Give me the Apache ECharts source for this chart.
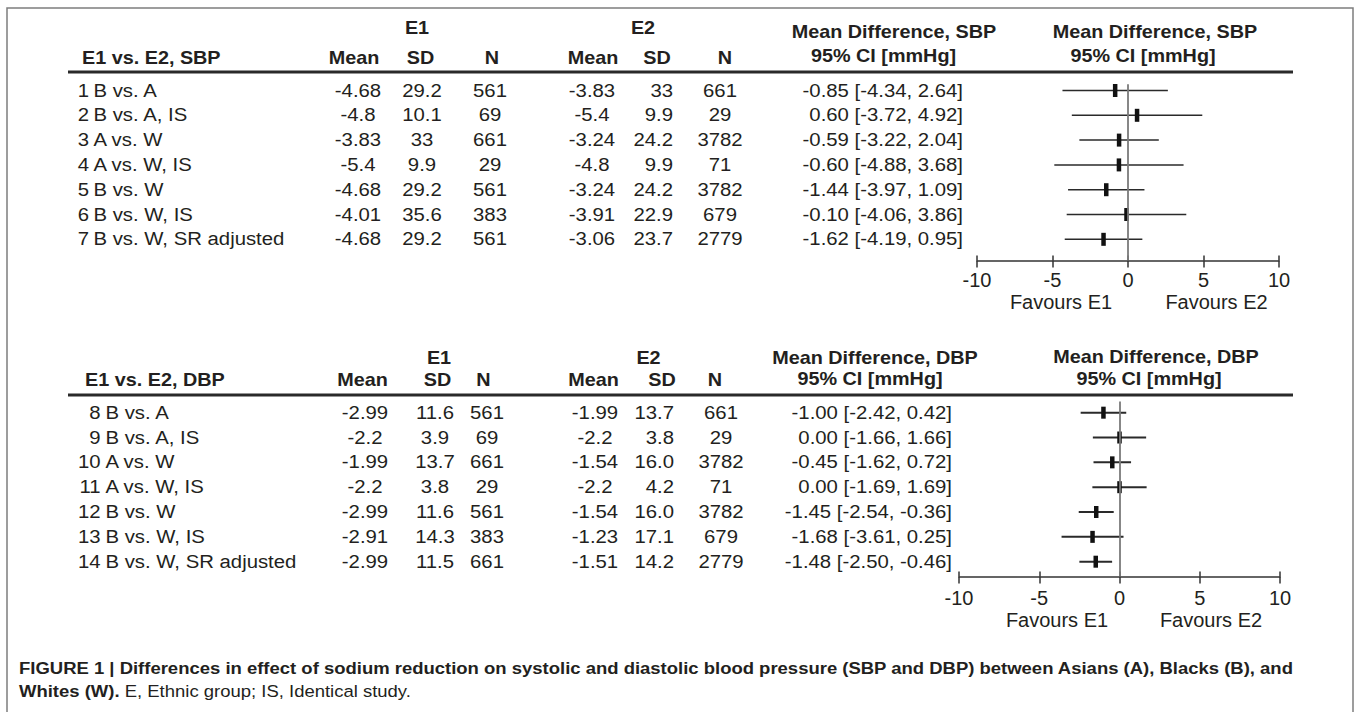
<!DOCTYPE html>
<html><head><meta charset="utf-8">
<script src="https://cdn.jsdelivr.net/npm/echarts/dist/echarts.min.js"></script>
<style>html,body{margin:0;padding:0;background:#fff}#chart{width:1357px;height:712px}</style>
</head><body><div id="chart"></div>
<script>
// ---------- DATA ----------
const sbpLabels = ["1 B vs. A","2 B vs. A, IS","3 A vs. W","4 A vs. W, IS","5 B vs. W","6 B vs. W, IS","7 B vs. W, SR adjusted"];
const sbpE1Mean = ["-4.68","-4.8","-3.83","-5.4","-4.68","-4.01","-4.68"];
const sbpE1SD   = ["29.2","10.1","33","9.9","29.2","35.6","29.2"];
const sbpE1N    = ["561","69","661","29","561","383","561"];
const sbpE2Mean = ["-3.83","-5.4","-3.24","-4.8","-3.24","-3.91","-3.06"];
const sbpE2SD   = ["33","9.9","24.2","9.9","24.2","22.9","23.7"];
const sbpE2N    = ["661","29","3782","71","3782","679","2779"];
const sbpMD     = [-0.85, 0.60, -0.59, -0.60, -1.44, -0.10, -1.62];
const sbpLo     = [-4.34, -3.72, -3.22, -4.88, -3.97, -4.06, -4.19];
const sbpHi     = [2.64, 4.92, 2.04, 3.68, 1.09, 3.86, 0.95];

const dbpLabels = ["8 B vs. A","9 B vs. A, IS","10 A vs. W","11 A vs. W, IS","12 B vs. W","13 B vs. W, IS","14 B vs. W, SR adjusted"];
const dbpE1Mean = ["-2.99","-2.2","-1.99","-2.2","-2.99","-2.91","-2.99"];
const dbpE1SD   = ["11.6","3.9","13.7","3.8","11.6","14.3","11.5"];
const dbpE1N    = ["561","69","661","29","561","383","661"];
const dbpE2Mean = ["-1.99","-2.2","-1.54","-2.2","-1.54","-1.23","-1.51"];
const dbpE2SD   = ["13.7","3.8","16.0","4.2","16.0","17.1","14.2"];
const dbpE2N    = ["661","29","3782","71","3782","679","2779"];
const dbpMD     = [-1.00, 0.00, -0.45, 0.00, -1.45, -1.68, -1.48];
const dbpLo     = [-2.42, -1.66, -1.62, -1.69, -2.54, -3.61, -2.50];
const dbpHi     = [0.42, 1.66, 0.72, 1.69, -0.36, 0.25, -0.46];

const xTicks = [-10, -5, 0, 5, 10];

// ---------- STYLE / LAYOUT ----------
const FONT = '"Liberation Sans", Arial, Helvetica, sans-serif';
const INK = '#231f20';
const SX = 1.13;   // horizontal stretch of table text
const HSX = 1.1;   // horizontal stretch of header text

const panels = [
  { key:'sbp', title:'E1 vs. E2, SBP', mdTitle:'Mean Difference, SBP',
    labels:sbpLabels, e1Mean:sbpE1Mean, e1SD:sbpE1SD, e1N:sbpE1N, e2Mean:sbpE2Mean, e2SD:sbpE2SD, e2N:sbpE2N,
    md:sbpMD, lo:sbpLo, hi:sbpHi,
    L:{numR:89, textL:93.5, e1MeanC:358, e1SdC:422, e1NC:490, e2MeanC:592, e2SdR:673, e2NC:720, mdR:963},
    grid:{left:977, top:84.3, width:302, height:176.1}, yMin:0.75, yMax:7.85, ciW:1.5, mSize:[4.5,13],
    H:{y1:28, y2:58, e1:417, e2:643, mdC1:894, mdY1:32, mdC2:883.5, mdY2:56, fC1:1155, fY1:32, fC2:1143, fY2:56,
       titleL:82, mean1:354, sd1:420.5, n1:492, mean2:593, sd2:657, n2:725, rule:72},
    fav:{y:302, c1:1061, c2:1216.5}, labelMargin:10 },
  { key:'dbp', title:'E1 vs. E2, DBP', mdTitle:'Mean Difference, DBP',
    labels:dbpLabels, e1Mean:dbpE1Mean, e1SD:dbpE1SD, e1N:dbpE1N, e2Mean:dbpE2Mean, e2SD:dbpE2SD, e2N:dbpE2N,
    md:dbpMD, lo:dbpLo, hi:dbpHi,
    L:{numR:100.5, textL:105.5, e1MeanC:365, e1SdC:435, e1NC:487, e2MeanC:595, e2SdR:674, e2NC:721, mdR:952},
    grid:{left:959, top:401.5, width:321, height:175.1}, yMin:0.55, yMax:7.6, ciW:2, mSize:[4.5,12],
    H:{y1:358, y2:380, e1:439, e2:648.5, mdC1:875, mdY1:358, mdC2:870, mdY2:379, fC1:1156, fY1:357, fC2:1149, fY2:379,
       titleL:85, mean1:362.5, sd1:437.5, n1:483.5, mean2:593.5, sd2:662, n2:715, rule:395},
    fav:{y:620, c1:1057, c2:1211}, labelMargin:11 }
];

function fmt(v){ return v.toFixed(2); }

function txt(s, x, y, align, opt) {
  opt = opt || {};
  return { type:'text', x:x, y:y, scaleX: opt.sx || SX, silent:true,
    style:{ text:s, x:0, y:0, align:align, verticalAlign:'middle', textAlign:align, textVerticalAlign:'middle',
      fontSize: opt.size || 18, fontWeight: opt.bold ? 'bold' : 'normal', fontFamily: FONT, fill: INK } };
}

function tableRender(p) {
  return function(params, api) {
    const i = params.dataIndex;
    const y = api.coord([0, api.value(1)])[1];
    const L = p.L;
    const lab = p.labels[i];
    const sp = lab.indexOf(' ');
    const children = [
      txt(lab.slice(0, sp), L.numR, y, 'right'),
      txt(lab.slice(sp + 1), L.textL, y, 'left'),
      txt(p.e1Mean[i], L.e1MeanC, y, 'center'),
      txt(p.e1SD[i], L.e1SdC, y, 'center'),
      txt(p.e1N[i], L.e1NC, y, 'center'),
      txt(p.e2Mean[i], L.e2MeanC, y, 'center'),
      txt(p.e2SD[i], L.e2SdR, y, 'right'),
      txt(p.e2N[i], L.e2NC, y, 'center'),
      txt(fmt(p.md[i]) + ' [' + fmt(p.lo[i]) + ', ' + fmt(p.hi[i]) + ']', L.mdR, y, 'right')
    ];
    return { type:'group', children: children };
  };
}

function ciRender(p) {
  return function(params, api) {
    const a = api.coord([api.value(0), api.value(2)]);
    const b = api.coord([api.value(1), api.value(2)]);
    return { type:'line', shape:{x1:a[0], y1:a[1], x2:b[0], y2:b[1]},
      style:{ stroke:'#2a2a2a', lineWidth:p.ciW } };
  };
}

const grids = [], xAxes = [], yAxes = [], series = [], graphics = [];

graphics.push({ type:'rect', shape:{x:7, y:8, width:1346, height:730}, style:{fill:'none', stroke:'#7d7d7d', lineWidth:1.5}, silent:true });

panels.forEach(function(p, k) {
  grids.push({ left:p.grid.left, top:p.grid.top, width:p.grid.width, height:p.grid.height });
  const axBase = { type:'value', gridIndex:k, position:'bottom', offset:0,
    min:xTicks[0], max:xTicks[xTicks.length-1], interval:xTicks[1]-xTicks[0], splitLine:{show:false} };
  xAxes.push(Object.assign({}, axBase, {
    axisLine:{ lineStyle:{ color:'#333', width:1.5 } },
    axisTick:{ inside:true, length:5, lineStyle:{ color:'#333', width:1.5 } },
    axisLabel:{ fontSize:20, color:INK, fontFamily:FONT, margin:p.labelMargin }
  }));
  xAxes.push(Object.assign({}, axBase, {
    axisLine:{ show:false },
    axisTick:{ inside:false, length:7, lineStyle:{ color:'#333', width:1.5 } },
    axisLabel:{ show:false }
  }));
  yAxes.push({ type:'value', gridIndex:k, min:p.yMin, max:p.yMax, inverse:true, show:false });

  const rows = p.labels.map(function(_, i){ return i + 1; });
  series.push({ type:'custom', name:p.key + '-table', xAxisIndex:2*k, yAxisIndex:k, silent:true, clip:false,
    data: rows.map(function(r){ return [0, r]; }), renderItem: tableRender(p) });
  series.push({ type:'custom', name:p.key + '-ci', xAxisIndex:2*k, yAxisIndex:k, silent:true, clip:false, z:3,
    data: rows.map(function(r, i){ return [p.lo[i], p.hi[i], r]; }), encode:{ x:[0,1], y:2 }, renderItem: ciRender(p) });
  series.push({ type:'scatter', name:p.key + '-md', xAxisIndex:2*k, yAxisIndex:k, silent:true, z:4,
    data: rows.map(function(r, i){ return [p.md[i], r]; }),
    symbol:'rect', symbolSize:p.mSize, itemStyle:{ color:'#111', opacity:1 },
    markLine:{ silent:true, symbol:['none','none'], label:{show:false},
      lineStyle:{ color:'#7a7a7a', width:1.8, type:'solid' }, data:[{ xAxis:0 }] } });

  // headers
  const H = p.H;
  graphics.push(txt('E1', H.e1, H.y1, 'center', {bold:true, sx:HSX}));
  graphics.push(txt('E2', H.e2, H.y1, 'center', {bold:true, sx:HSX}));
  graphics.push(txt(p.mdTitle, H.mdC1, H.mdY1, 'center', {bold:true, sx:HSX}));
  graphics.push(txt('95% CI [mmHg]', H.mdC2, H.mdY2, 'center', {bold:true, sx:HSX}));
  graphics.push(txt(p.mdTitle, H.fC1, H.fY1, 'center', {bold:true, sx:HSX}));
  graphics.push(txt('95% CI [mmHg]', H.fC2, H.fY2, 'center', {bold:true, sx:HSX}));
  graphics.push(txt(p.title, H.titleL, H.y2, 'left', {bold:true, sx:HSX}));
  graphics.push(txt('Mean', H.mean1, H.y2, 'center', {bold:true, sx:HSX}));
  graphics.push(txt('SD', H.sd1, H.y2, 'center', {bold:true, sx:HSX}));
  graphics.push(txt('N', H.n1, H.y2, 'center', {bold:true, sx:HSX}));
  graphics.push(txt('Mean', H.mean2, H.y2, 'center', {bold:true, sx:HSX}));
  graphics.push(txt('SD', H.sd2, H.y2, 'center', {bold:true, sx:HSX}));
  graphics.push(txt('N', H.n2, H.y2, 'center', {bold:true, sx:HSX}));
  graphics.push({ type:'line', silent:true, shape:{x1:68, y1:H.rule, x2:1293, y2:H.rule}, style:{stroke:'#2a2a2a', lineWidth:3} });
  graphics.push(txt('Favours E1', p.fav.c1, p.fav.y, 'center', {size:20, sx:1}));
  graphics.push(txt('Favours E2', p.fav.c2, p.fav.y, 'center', {size:20, sx:1}));
});

// caption
graphics.push({ type:'text', x:19, y:668, scaleX:1.087, silent:true, style:{
  text:'{b|FIGURE 1 | Differences in effect of sodium reduction on systolic and diastolic blood pressure (SBP and DBP) between Asians (A), Blacks (B), and}',
  verticalAlign:'middle', textVerticalAlign:'middle', rich:{ b:{ fontSize:17, fontWeight:'bold', fontFamily:FONT, fill:INK, color:INK } } } });
graphics.push({ type:'text', x:19, y:691, scaleX:1.087, silent:true, style:{
  text:'{b|Whites (W).}{n| E, Ethnic group; IS, Identical study.}',
  verticalAlign:'middle', textVerticalAlign:'middle', rich:{
    b:{ fontSize:17, fontWeight:'bold', fontFamily:FONT, fill:INK, color:INK },
    n:{ fontSize:17, fontWeight:'normal', fontFamily:FONT, fill:INK, color:INK } } } });

const chart = echarts.init(document.getElementById('chart'), null, { renderer:'svg' });
chart.setOption({
  animation:false,
  backgroundColor:'#ffffff',
  grid:grids, xAxis:xAxes, yAxis:yAxes, series:series, graphic:graphics
});
</script></body></html>
